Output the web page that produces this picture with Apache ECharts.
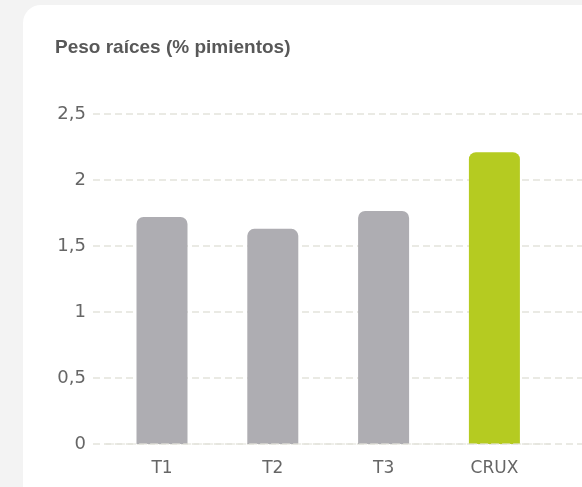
<!DOCTYPE html>
<html>
<head>
<meta charset="utf-8">
<script src="https://cdn.jsdelivr.net/npm/echarts@6/dist/echarts.min.js"></script>
<style>
html,body{margin:0;padding:0;background:#f3f3f3;width:582px;height:487px;overflow:hidden;}
#card{position:absolute;left:23px;top:5px;width:620px;height:540px;background:#fff;border-radius:18px;}
#chart{position:absolute;left:0;top:0;width:582px;height:487px;}
</style>
</head>
<body>
<div id="card"></div>
<div id="chart"></div>
<script>
const titleText = 'Peso raíces (% pimientos)';
const categories = ['T1', 'T2', 'T3', 'CRUX'];
const values = [1.72, 1.63, 1.765, 2.21];
const barColors = ['#aeadb2', '#aeadb2', '#aeadb2', '#b5cb21'];
const yMin = 0, yMax = 2.5, yStep = 0.5;

const chart = echarts.init(document.getElementById('chart'), null, {renderer: 'canvas'});
const fmt = v => String(v).replace('.', ',');
chart.setOption({
  animation: false,
  title: {
    text: titleText, left: 55, top: 38, padding: 0,
    textStyle: {fontFamily: 'Liberation Sans', fontWeight: 'bold', fontSize: 19, color: '#585858'}
  },
  grid: [
    {left: 93, right: -30, top: 114, bottom: 43},
    {left: 106.6, right: 32.2, top: 114, bottom: 43}
  ],
  xAxis: [
    {gridIndex: 0, type: 'category', data: categories, show: false},
    {gridIndex: 1, type: 'category', data: categories, z: 5,
     axisLine: {show: true, lineStyle: {color: '#e4e3dc', width: 1.5, type: [7, 4], opacity: 0.8}},
     axisTick: {show: false},
     axisLabel: {margin: 16, fontFamily: 'DejaVu Sans', fontSize: 17, color: '#666'}}
  ],
  yAxis: [
    {gridIndex: 0, type: 'value', min: yMin, max: yMax, interval: yStep,
     axisLine: {show: false}, axisTick: {show: false},
     axisLabel: {margin: 7, fontFamily: 'DejaVu Sans', fontSize: 18, color: '#666', formatter: fmt},
     splitLine: {show: true, lineStyle: {color: '#e4e3dc', width: 1.5, type: [7, 4]}}},
    {gridIndex: 1, type: 'value', min: yMin, max: yMax, interval: yStep, show: false,
     splitLine: {show: false}}
  ],
  series: [{
    type: 'bar', xAxisIndex: 1, yAxisIndex: 1, barWidth: 51,
    data: values.map((v, i) => ({value: v, itemStyle: {color: barColors[i]}})),
    itemStyle: {borderRadius: [7, 7, 0, 0]}
  }]
});
</script>
</body>
</html>
